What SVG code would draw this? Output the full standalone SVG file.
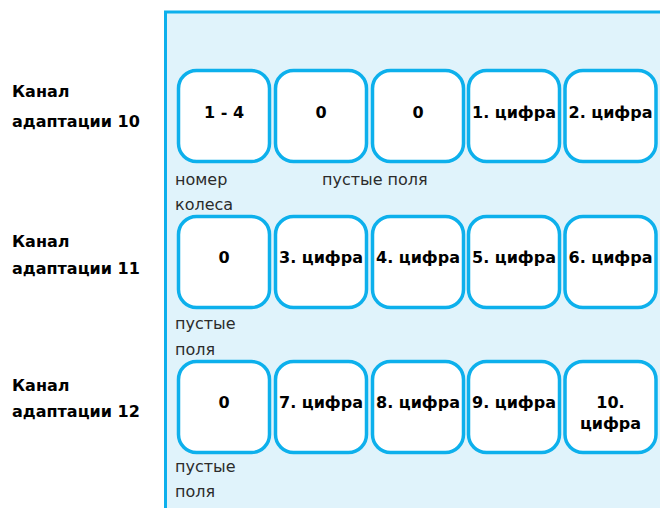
<svg xmlns="http://www.w3.org/2000/svg" width="660" height="508" viewBox="0 0 660 508">
<style>
.panel{fill:#E0F3FB;stroke:#0DB0EC;stroke-width:3}
.box{fill:#FFFFFF;stroke:#0DB0EC;stroke-width:3.5}
.b{font-family:"DejaVu Sans","Liberation Sans",sans-serif;font-weight:bold;font-size:16px;fill:#000;text-anchor:middle}
.ch{font-family:"DejaVu Sans","Liberation Sans",sans-serif;font-weight:bold;font-size:16px;fill:#000}
.n{font-family:"DejaVu Sans","Liberation Sans",sans-serif;font-size:16px;fill:#2b2b2b}
</style>
<rect class="panel" x="165.5" y="12" width="560" height="560"/>
<g id="labels-left">
<text class="ch" x="12" y="97">Канал</text>
<text class="ch" x="12" y="127">адаптации 10</text>
<text class="ch" x="12" y="247">Канал</text>
<text class="ch" x="12" y="274">адаптации 11</text>
<text class="ch" x="12" y="391">Канал</text>
<text class="ch" x="12" y="417">адаптации 12</text>
</g>
<g id="notes">
<text class="n" x="175" y="185">номер</text>
<text class="n" x="175" y="210">колеса</text>
<text class="n" x="322" y="185">пустые поля</text>
<text class="n" x="175" y="329">пустые</text>
<text class="n" x="175" y="355">поля</text>
<text class="n" x="175" y="472">пустые</text>
<text class="n" x="175" y="497">поля</text>
</g>
<g id="row1">
<g id="r1c1"><rect class="box" x="178.5" y="70.5" width="91" height="91" rx="18"/><text class="b" x="224" y="117.5">1 - 4</text></g>
<g id="r1c2"><rect class="box" x="275.5" y="70.5" width="91" height="91" rx="18"/><text class="b" x="321" y="117.5">0</text></g>
<g id="r1c3"><rect class="box" x="372.5" y="70.5" width="91" height="91" rx="18"/><text class="b" x="418" y="117.5">0</text></g>
<g id="r1c4"><rect class="box" x="468.5" y="70.5" width="91" height="91" rx="18"/><text class="b" x="514" y="117.5">1. цифра</text></g>
<g id="r1c5"><rect class="box" x="565" y="70.5" width="91" height="91" rx="18"/><text class="b" x="610.5" y="117.5">2. цифра</text></g>
</g>
<g id="row2">
<g id="r2c1"><rect class="box" x="178.5" y="216.5" width="91" height="91" rx="18"/><text class="b" x="224" y="263">0</text></g>
<g id="r2c2"><rect class="box" x="275.5" y="216.5" width="91" height="91" rx="18"/><text class="b" x="321" y="263">3. цифра</text></g>
<g id="r2c3"><rect class="box" x="372.5" y="216.5" width="91" height="91" rx="18"/><text class="b" x="418" y="263">4. цифра</text></g>
<g id="r2c4"><rect class="box" x="468.5" y="216.5" width="91" height="91" rx="18"/><text class="b" x="514" y="263">5. цифра</text></g>
<g id="r2c5"><rect class="box" x="565" y="216.5" width="91" height="91" rx="18"/><text class="b" x="610.5" y="263">6. цифра</text></g>
</g>
<g id="row3">
<g id="r3c1"><rect class="box" x="178.5" y="361.5" width="91" height="91" rx="18"/><text class="b" x="224" y="407.5">0</text></g>
<g id="r3c2"><rect class="box" x="275.5" y="361.5" width="91" height="91" rx="18"/><text class="b" x="321" y="407.5">7. цифра</text></g>
<g id="r3c3"><rect class="box" x="372.5" y="361.5" width="91" height="91" rx="18"/><text class="b" x="418" y="407.5">8. цифра</text></g>
<g id="r3c4"><rect class="box" x="468.5" y="361.5" width="91" height="91" rx="18"/><text class="b" x="514" y="407.5">9. цифра</text></g>
<g id="r3c5"><rect class="box" x="565" y="361.5" width="91" height="91" rx="18"/><text class="b" x="610.5" y="408">10.</text><text class="b" x="610.5" y="429">цифра</text></g>
</g>
</svg>
